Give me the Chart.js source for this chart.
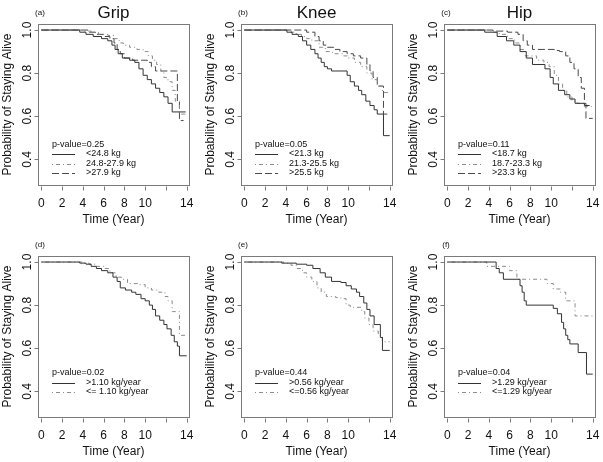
<!DOCTYPE html>
<html>
<head>
<meta charset="utf-8">
<script src="https://cdn.jsdelivr.net/npm/chart.js@4.4.0/dist/chart.umd.min.js"></script>
<style>
body { margin: 0; background: #fff; }
#wrap { position: relative; width: 603px; height: 462px; overflow: hidden; background: #fff; }
.panel { position: absolute; }
</style>
</head>
<body>
<div id="wrap"></div>
<script>
// axis ticks (R drops the "12" label because it would overlap)
const xTicks = [0, 2, 4, 6, 8, 10, 12, 14];
const xTickLabels = ['0', '2', '4', '6', '8', '10', '', '14'];
const yTicks = [0.4, 0.6, 0.8, 1.0];
const yTickLabels = ['0.4', '0.6', '0.8', '1.0'];

const titles = ['Grip', 'Knee', 'Hip', '', '', ''];
const panelTags = ['(a)', '(b)', '(c)', '(d)', '(e)', '(f)'];
const pValues = ['p-value=0.25', 'p-value=0.05', 'p-value=0.11', 'p-value=0.02', 'p-value=0.44', 'p-value=0.04'];

const legendA = ['<24.8 kg', '24.8-27.9 kg', '>27.9 kg'];
const legendB = ['<21.3 kg', '21.3-25.5 kg', '>25.5 kg'];
const legendC = ['<18.7 kg', '18.7-23.3 kg', '>23.3 kg'];
const legendD = ['>1.10 kg/year', '<= 1.10 kg/year'];
const legendE = ['>0.56 kg/year', '<=0.56 kg/year'];
const legendF = ['>1.29 kg/year', '<=1.29 kg/year'];

// (a) Grip
const aLowT  = [0, 3.7, 4.3, 5.0, 5.8, 6.4, 6.8, 7.1, 7.4, 7.8, 8.5, 9.0, 9.4, 9.8, 10.2, 10.6, 11.0, 11.4, 11.8, 12.2, 12.6, 13.9];
const aLowS  = [1, 0.99, 0.98, 0.97, 0.96, 0.95, 0.93, 0.91, 0.89, 0.87, 0.86, 0.85, 0.82, 0.79, 0.77, 0.75, 0.73, 0.71, 0.69, 0.66, 0.62, 0.62];
const aMidT  = [0, 4.0, 4.8, 5.5, 6.4, 7.0, 7.5, 7.9, 8.5, 9.2, 9.8, 10.3, 10.7, 11.1, 11.5, 11.8, 12.2, 12.6, 12.9, 13.3, 14.0];
const aMidS  = [1, 0.995, 0.99, 0.98, 0.975, 0.96, 0.94, 0.93, 0.92, 0.91, 0.90, 0.88, 0.86, 0.84, 0.81, 0.78, 0.76, 0.72, 0.67, 0.61, 0.61];
const aHighT = [0, 4.5, 5.2, 6.0, 6.6, 7.0, 7.3, 7.6, 8.0, 8.8, 10.2, 10.6, 11.0, 13.1, 13.3, 13.7];
const aHighS = [1, 0.99, 0.98, 0.97, 0.96, 0.94, 0.91, 0.89, 0.87, 0.86, 0.85, 0.83, 0.81, 0.67, 0.58, 0.58];

// (b) Knee
const bLowT  = [0, 4.1, 4.6, 5.2, 5.6, 6.0, 6.4, 6.8, 7.1, 7.4, 7.7, 8.0, 8.4, 9.9, 10.2, 10.6, 11.0, 11.3, 11.7, 12.1, 12.5, 12.8, 13.4, 14.0];
const bLowS  = [1, 0.99, 0.98, 0.97, 0.95, 0.93, 0.91, 0.89, 0.87, 0.85, 0.83, 0.82, 0.81, 0.79, 0.76, 0.74, 0.72, 0.70, 0.67, 0.65, 0.63, 0.61, 0.51, 0.51];
const bMidT  = [0, 4.5, 5.0, 5.5, 6.0, 6.5, 7.2, 7.8, 8.5, 9.5, 10.0, 10.6, 11.2, 11.8, 12.3, 12.8, 13.3, 14.0];
const bMidS  = [1, 0.99, 0.98, 0.97, 0.96, 0.95, 0.92, 0.90, 0.89, 0.88, 0.87, 0.85, 0.83, 0.80, 0.77, 0.74, 0.71, 0.71];
const bHighT = [0, 6.0, 6.8, 7.2, 7.6, 8.0, 8.6, 9.2, 9.9, 10.5, 11.2, 11.8, 12.1, 12.4, 12.8, 13.4, 13.9];
const bHighS = [1, 0.99, 0.97, 0.95, 0.93, 0.92, 0.91, 0.90, 0.89, 0.88, 0.87, 0.84, 0.81, 0.78, 0.74, 0.61, 0.61];

// (c) Hip
const cLowT  = [0, 3.6, 4.8, 5.7, 6.4, 7.0, 7.6, 8.2, 9.4, 9.9, 10.2, 10.7, 11.3, 11.8, 12.3, 13.2, 13.7];
const cLowS  = [1, 0.99, 0.97, 0.95, 0.93, 0.90, 0.87, 0.84, 0.82, 0.78, 0.75, 0.72, 0.70, 0.68, 0.66, 0.65, 0.65];
const cMidT  = [0, 4.2, 5.0, 5.8, 6.5, 7.0, 7.5, 8.6, 9.3, 9.8, 10.3, 10.7, 11.1, 11.5, 12.0, 12.5, 13.2, 14.0];
const cMidS  = [1, 0.99, 0.98, 0.96, 0.94, 0.91, 0.88, 0.86, 0.85, 0.83, 0.79, 0.75, 0.72, 0.69, 0.67, 0.66, 0.645, 0.645];
const cHighT = [0, 4.4, 5.8, 6.8, 7.3, 7.7, 8.2, 10.3, 10.8, 11.4, 11.8, 12.2, 12.6, 12.9, 13.2, 13.35, 14.0];
const cHighS = [1, 0.995, 0.99, 0.98, 0.95, 0.93, 0.91, 0.905, 0.90, 0.88, 0.85, 0.82, 0.78, 0.73, 0.66, 0.59, 0.59];

// (d) Grip change
const dFastT = [0, 3.7, 4.3, 4.8, 5.3, 5.8, 6.4, 6.9, 7.3, 7.6, 8.1, 8.7, 9.1, 9.6, 10.0, 10.4, 10.7, 11.0, 11.4, 11.8, 12.1, 12.5, 12.8, 13.1, 13.3, 14.0];
const dFastS = [1, 0.995, 0.99, 0.98, 0.97, 0.96, 0.95, 0.93, 0.91, 0.88, 0.87, 0.86, 0.85, 0.83, 0.82, 0.80, 0.78, 0.75, 0.73, 0.71, 0.69, 0.66, 0.63, 0.61, 0.565, 0.565];
const dSlowT = [0, 4.0, 4.6, 5.3, 6.0, 6.6, 7.2, 7.7, 8.3, 9.3, 10.0, 10.6, 11.3, 11.9, 12.2, 12.6, 13.3, 14.0];
const dSlowS = [1, 0.995, 0.99, 0.98, 0.97, 0.95, 0.93, 0.92, 0.90, 0.895, 0.88, 0.87, 0.86, 0.84, 0.82, 0.77, 0.66, 0.66];

// (e) Knee change
const eFastT = [0, 3.6, 5.0, 6.0, 6.6, 7.3, 7.8, 8.4, 9.3, 9.8, 10.3, 10.8, 11.1, 11.5, 11.8, 12.1, 12.5, 13.1, 13.3, 14.0];
const eFastS = [1, 0.995, 0.99, 0.985, 0.97, 0.95, 0.93, 0.91, 0.905, 0.89, 0.875, 0.86, 0.84, 0.81, 0.78, 0.75, 0.71, 0.65, 0.59, 0.59];
const eSlowT = [0, 3.8, 4.5, 5.0, 5.6, 6.0, 6.5, 7.0, 7.4, 7.9, 8.8, 9.3, 9.8, 10.2, 11.3, 11.6, 12.0, 12.4, 12.9, 13.3, 14.0];
const eSlowS = [1, 0.995, 0.985, 0.97, 0.95, 0.93, 0.91, 0.88, 0.86, 0.84, 0.835, 0.83, 0.80, 0.79, 0.77, 0.74, 0.71, 0.68, 0.66, 0.63, 0.63];

// (f) Hip change
const fFastT = [0, 4.7, 5.0, 5.4, 7.0, 7.2, 7.4, 7.6, 10.2, 10.6, 11.0, 11.2, 11.4, 11.6, 11.8, 12.6, 13.4, 14.0];
const fFastS = [1, 0.97, 0.95, 0.92, 0.89, 0.86, 0.82, 0.80, 0.785, 0.76, 0.72, 0.69, 0.66, 0.64, 0.62, 0.58, 0.48, 0.48];
const fSlowT = [0, 3.8, 6.0, 6.7, 9.6, 10.2, 10.9, 11.4, 12.3, 14.0];
const fSlowS = [1, 0.98, 0.96, 0.92, 0.90, 0.875, 0.86, 0.82, 0.75, 0.75];

const solid = { color: '#333333', dash: [] };
const dotdash = { color: '#8c8c8c', dash: [1, 3, 4, 3] };
const longdash = { color: '#4a4a4a', dash: [7, 3] };

const panels = [
  { left: 0,   top: 0,   curves: [[aLowT, aLowS, solid], [aMidT, aMidS, dotdash], [aHighT, aHighS, longdash]], legend: legendA },
  { left: 203, top: 0,   curves: [[bLowT, bLowS, solid], [bMidT, bMidS, dotdash], [bHighT, bHighS, longdash]], legend: legendB },
  { left: 406, top: 0,   curves: [[cLowT, cLowS, solid], [cMidT, cMidS, dotdash], [cHighT, cHighS, longdash]], legend: legendC },
  { left: 0,   top: 232, curves: [[dFastT, dFastS, solid], [dSlowT, dSlowS, dotdash]], legend: legendD },
  { left: 203, top: 232, curves: [[eFastT, eFastS, solid], [eSlowT, eSlowS, dotdash]], legend: legendE },
  { left: 406, top: 232, curves: [[fFastT, fFastS, solid], [fSlowT, fSlowS, dotdash]], legend: legendF }
];
const styles = [solid, dotdash, longdash];

const FONT = '"Liberation Sans", Arial, Helvetica, sans-serif';

// draws the R style box, ticks, labels and legend on top of the chart
function rDecor(idx, panel) {
  return {
    id: 'rDecor' + idx,
    afterDraw(chart) {
      const ctx = chart.ctx;
      const a = chart.chartArea;
      const x = chart.scales.x;
      const y = chart.scales.y;
      const L = Math.round(a.left) + 0.5, R = Math.round(a.right) + 0.5;
      const T = Math.round(a.top) + 0.5, B = Math.round(a.bottom) + 0.5;
      ctx.save();
      ctx.strokeStyle = '#7a7a7a';
      ctx.lineWidth = 1;
      ctx.setLineDash([]);
      ctx.strokeRect(L, T, R - L, B - T);

      ctx.beginPath();
      xTicks.forEach(v => {
        const px = Math.round(x.getPixelForValue(v)) + 0.5;
        ctx.moveTo(px, B + 1); ctx.lineTo(px, B + 5);
      });
      yTicks.forEach(v => {
        const py = Math.round(y.getPixelForValue(v)) + 0.5;
        ctx.moveTo(L - 4, py); ctx.lineTo(L, py);
      });
      ctx.stroke();

      ctx.fillStyle = '#111';
      ctx.font = '12px ' + FONT;
      ctx.textAlign = 'center';
      ctx.textBaseline = 'middle';
      xTickLabels.forEach((lab, i) => {
        if (lab) ctx.fillText(lab, x.getPixelForValue(xTicks[i]), 204);
      });
      ctx.fillText('Time (Year)', (a.left + a.right) / 2, 220);

      yTickLabels.forEach((lab, i) => {
        ctx.save();
        ctx.translate(a.left - 10, y.getPixelForValue(yTicks[i]));
        ctx.rotate(-Math.PI / 2);
        ctx.fillText(lab, 0, 0);
        ctx.restore();
      });
      ctx.save();
      ctx.translate(8, (a.top + a.bottom) / 2);
      ctx.rotate(-Math.PI / 2);
      ctx.fillText('Probability of Staying Alive', 0, 0);
      ctx.restore();

      ctx.font = '8px ' + FONT;
      ctx.fillText(panelTags[idx], 40, 13);
      if (titles[idx]) {
        ctx.font = '17px ' + FONT;
        ctx.textBaseline = 'alphabetic';
        ctx.fillText(titles[idx], (a.left + a.right) / 2, 18);
      }

      // legend
      const lx = a.left + 14;
      const rows = panel.legend.length;
      const y0 = rows === 3 ? 144.5 : 141;
      ctx.font = '9px ' + FONT;
      ctx.textAlign = 'left';
      ctx.textBaseline = 'middle';
      ctx.fillText(pValues[idx], lx, y0);
      panel.legend.forEach((lab, i) => {
        const ry = y0 + 9.5 * (i + 1);
        const st = styles[i];
        ctx.strokeStyle = st.color;
        ctx.setLineDash(st.dash);
        ctx.beginPath();
        ctx.moveTo(lx, Math.round(ry) + 0.5);
        ctx.lineTo(lx + 23, Math.round(ry) + 0.5);
        ctx.stroke();
        ctx.fillText(lab, lx + 34, ry);
      });
      ctx.restore();
    }
  };
}

const wrap = document.getElementById('wrap');
panels.forEach((p, idx) => {
  const canvas = document.createElement('canvas');
  canvas.width = 200;
  canvas.height = 231;
  canvas.className = 'panel';
  canvas.style.left = p.left + 'px';
  canvas.style.top = p.top + 'px';
  wrap.appendChild(canvas);

  new Chart(canvas, {
    type: 'line',
    data: {
      datasets: p.curves.map(c => ({
        data: c[0].map((t, i) => ({ x: t, y: c[1][i] })),
        borderColor: c[2].color,
        borderDash: c[2].dash,
        borderWidth: 1,
        stepped: true,
        pointRadius: 0,
        fill: false
      }))
    },
    options: {
      responsive: false,
      animation: false,
      devicePixelRatio: 1,
      layout: { padding: { left: 38, right: 11, top: 24, bottom: 46 } },
      scales: {
        x: { type: 'linear', min: -0.32, max: 14.22, display: false },
        y: { type: 'linear', min: 0.281, max: 1.028, display: false }
      },
      plugins: { legend: { display: false }, tooltip: { enabled: false } }
    },
    plugins: [rDecor(idx, p)]
  });
});
</script>
</body>
</html>
